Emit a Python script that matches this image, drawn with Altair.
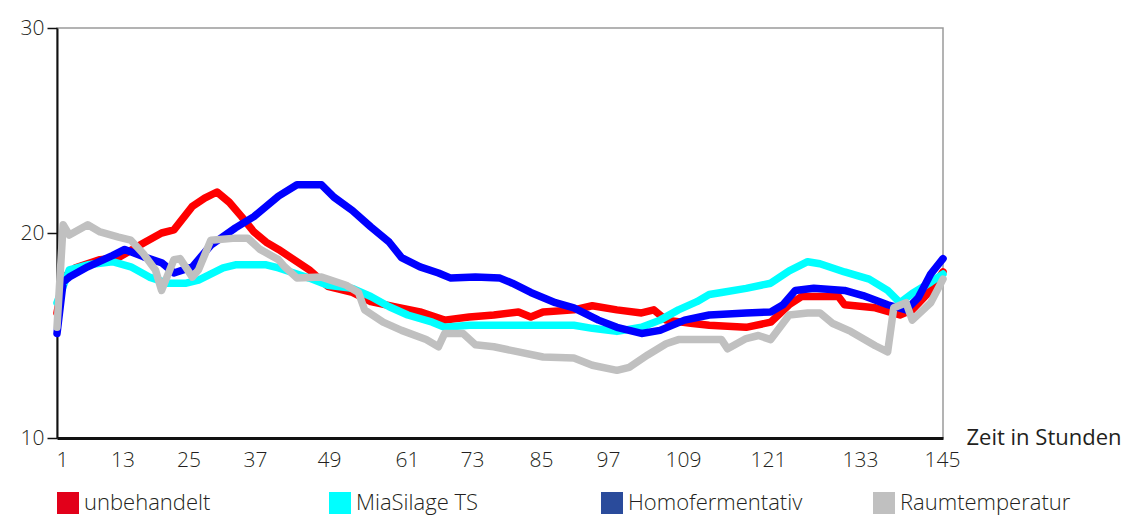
import altair as alt
import pandas as pd

# ---- series and colours ----
series = ["unbehandelt", "MiaSilage TS", "Homofermentativ", "Raumtemperatur"]
line_colors = ["#FF0000", "#00FFFF", "#0000FF", "#C0C0C0"]
swatch_colors = ["#E2001A", "#00FFFF", "#2A4B9B", "#C0C0C0"]

# ---- values (hour, °C) ----
red_hours = [1, 2, 4, 8, 11, 15, 18, 20, 23, 25, 27, 29, 31, 33, 35, 37, 39, 42, 45, 49,
             52, 56, 60, 64, 68, 72, 76, 78, 80, 85, 88, 92, 96, 98, 100, 104, 107, 113,
             117, 120, 122, 128, 129, 134, 138, 140, 143, 145]
red_temp = [16.1, 17.8, 18.3, 18.7, 18.8, 19.5, 20.0, 20.15, 21.3, 21.7, 22.0, 21.5, 20.8,
            20.05, 19.55, 19.2, 18.8, 18.2, 17.4, 17.1, 16.65, 16.4, 16.15, 15.75, 15.9,
            16.0, 16.15, 15.9, 16.15, 16.25, 16.45, 16.25, 16.1, 16.25, 15.75, 15.6, 15.5,
            15.4, 15.65, 16.5, 16.9, 16.9, 16.5, 16.35, 16.0, 16.25, 17.2, 18.1]

cyan_hours = [1, 3, 6, 10, 13, 16, 19, 22, 24, 28, 30, 35, 37, 39, 42, 45, 49, 52, 55, 58,
              62, 64, 68, 73, 80, 85, 88, 92, 96, 99, 102, 105, 107, 109, 113, 117, 120,
              123, 125, 129, 133, 136, 138, 140, 143, 145]
cyan_temp = [16.6, 18.2, 18.45, 18.6, 18.35, 17.85, 17.55, 17.55, 17.7, 18.3, 18.45, 18.45,
             18.3, 18.1, 17.8, 17.45, 17.3, 16.9, 16.4, 16.0, 15.65, 15.4, 15.5, 15.5, 15.5,
             15.5, 15.35, 15.2, 15.4, 15.75, 16.25, 16.65, 17.0, 17.1, 17.3, 17.55, 18.15,
             18.6, 18.5, 18.1, 17.75, 17.2, 16.6, 17.05, 17.6, 18.0]

blue_hours = [1, 2, 3, 6, 10, 12, 15, 18, 20, 23, 26, 30, 33, 37, 40, 44, 46, 49, 52, 55,
              57, 60, 63, 65, 69, 73, 75, 78, 82, 85, 89, 92, 96, 99, 103, 107, 113, 117,
              119, 121, 124, 129, 132, 136, 139, 141, 143, 145]
blue_temp = [15.1, 17.6, 17.85, 18.35, 18.9, 19.2, 18.85, 18.55, 18.05, 18.35, 19.4, 20.25,
             20.8, 21.8, 22.35, 22.35, 21.75, 21.1, 20.3, 19.55, 18.8, 18.35, 18.05, 17.8,
             17.85, 17.8, 17.55, 17.1, 16.6, 16.35, 15.75, 15.4, 15.1, 15.25, 15.75, 16.0,
             16.1, 16.15, 16.5, 17.2, 17.3, 17.2, 16.95, 16.5, 16.25, 16.85, 18.0, 18.75]

gray_hours = [1, 2, 3, 6, 8, 11, 13, 15, 17, 18, 20, 21, 23, 24, 26, 30, 32, 34, 37, 38,
              40, 44, 48, 50, 51, 54, 57, 61, 63, 64, 67, 69, 72, 76, 80, 85, 88, 92, 94,
              97, 100, 102, 109, 110, 113, 115, 117, 120, 123, 125, 127, 130, 134, 136,
              137, 139, 140, 143, 145]
gray_temp = [15.4, 20.4, 19.9, 20.4, 20.05, 19.8, 19.65, 19.0, 18.2, 17.2, 18.7, 18.75,
             17.85, 18.2, 19.65, 19.75, 19.75, 19.2, 18.7, 18.35, 17.8, 17.85, 17.45, 17.1,
             16.25, 15.65, 15.25, 14.8, 14.45, 15.1, 15.1, 14.55, 14.45, 14.2, 13.95, 13.9,
             13.55, 13.3, 13.45, 14.05, 14.6, 14.8, 14.8, 14.35, 14.85, 15.0, 14.8, 16.0,
             16.1, 16.1, 15.6, 15.2, 14.5, 14.2, 16.35, 16.6, 15.75, 16.6, 17.75]

# ---- axis labels (the reference sets its hour labels unevenly; anchors in hours) ----
tick_labels = ["1", "13", "25", "37", "49", "61", "73", "85", "97", "109", "121", "133", "145"]
tick_anchor_hours = [1.81, 11.65, 22.39, 33.18, 45.21, 57.89, 68.45, 79.66, 90.55,
                     102.74, 116.55, 131.51, 144.84]
y_ticks = [10, 20, 30]

rows = []
for name, hrs, vals in zip(series,
                           [red_hours, cyan_hours, blue_hours, gray_hours],
                           [red_temp, cyan_temp, blue_temp, gray_temp]):
    for h, v in zip(hrs, vals):
        rows.append({"Serie": name, "Stunde": h, "Temperatur": v})
df = pd.DataFrame(rows)

FONT = "Open Sans"
TEXT = "#231f20"
anchors_js = "[" + ",".join(str(a) for a in tick_anchor_hours) + "]"
labels_js = "[" + ",".join("'" + t + "'" for t in tick_labels) + "]"

x_enc = alt.X(
    "Stunde:Q",
    scale=alt.Scale(domain=[1, 145], nice=False, zero=False),
    axis=alt.Axis(
        values=tick_anchor_hours,
        labelExpr=labels_js + "[indexof(" + anchors_js + ", datum.value)]",
        ticks=False,
        grid=False,
        domainColor="#111111",
        domainWidth=3,
        labelPadding=11,
        labelFlush=False,
        labelOverlap=False,
        labelBound=False,
        title="Zeit in Stunden",
        titleAlign="left",
        titleAnchor="start",
        titleBaseline="middle",
        titleX=909,
        titleY=-1,
        titleFontWeight="normal",
        titleFontSize=22,
    ),
)
y_enc = alt.Y(
    "Temperatur:Q",
    scale=alt.Scale(domain=[10, 30], nice=False, zero=False),
    axis=alt.Axis(
        values=y_ticks,
        grid=False,
        tickSize=10,
        tickColor="#111111",
        tickWidth=1.5,
        domainColor="#111111",
        domainWidth=2,
        labelPadding=3,
        title=None,
    ),
)

stroke_scale = alt.Scale(domain=series, range=line_colors)

# layer that only carries the legend (its tiny squares sit under the lines)
legend_layer = (
    alt.Chart(df)
    .transform_calculate(Legende="datum.Serie")
    .mark_square(size=4, opacity=1)
    .encode(
        x=x_enc,
        y=y_enc,
        fill=alt.Fill(
            "Legende:N",
            scale=alt.Scale(domain=series, range=swatch_colors),
            legend=alt.Legend(
                title=None,
                orient="bottom",
                offset=22,
                direction="horizontal",
                symbolType="square",
                symbolSize=484,
                symbolStrokeWidth=0,
                symbolOpacity=1,
                labelFontSize=22,
                labelOffset=5,
                labelLimit=400,
                columnPadding=70,
                padding=0,
            ),
        ),
    )
)

layers = [legend_layer]
for name in series:
    layers.append(
        alt.Chart(df)
        .transform_filter(alt.datum.Serie == name)
        .mark_line(strokeWidth=7.5, strokeJoin="round", strokeCap="round")
        .encode(x=x_enc, y=y_enc,
                stroke=alt.Stroke("Serie:N", scale=stroke_scale, legend=None))
    )

chart = (
    alt.layer(*layers)
    .resolve_legend(fill="independent")
    .properties(
        width=886,
        height=410,
        padding={"left": 49, "top": 20, "right": 182, "bottom": 83},
        autosize=alt.AutoSizeParams(type="none"),
    )
    .configure_view(stroke="#9a9a9a", strokeWidth=1.5)
    .configure_axis(labelFont=FONT, titleFont=FONT, labelFontSize=21,
                    labelColor=TEXT, titleColor=TEXT, labelFontWeight=300)
    .configure_legend(labelFont=FONT, labelColor=TEXT, gridAlign="all",
                      labelFontWeight=300)
)

chart.save("out.html", embed_options={"renderer": "svg", "actions": False})
